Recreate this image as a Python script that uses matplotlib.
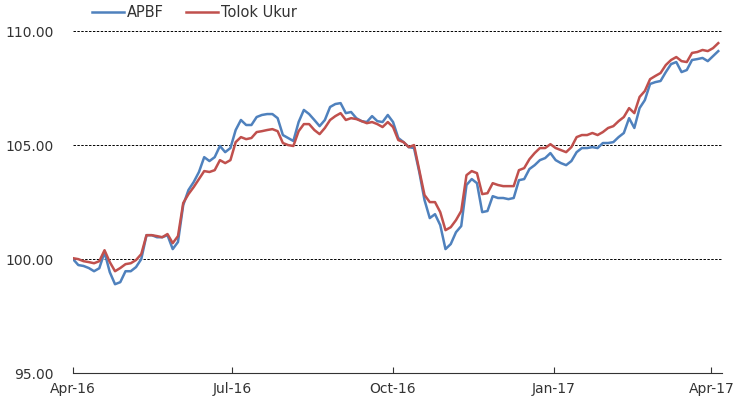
import matplotlib
matplotlib.use("Agg")
import matplotlib.pyplot as plt
import matplotlib.dates as mdates
import pandas as pd

# one reading every 3 days, starting 1 Apr 2016
dates = pd.date_range("2016-04-01", periods=124, freq="3D")

apbf = [
    100.00, 99.74, 99.70, 99.61, 99.47, 99.60, 100.30, 99.43, 98.90, 98.99,
    99.47, 99.47, 99.65, 100.00, 101.05, 101.05, 100.96, 100.96, 101.05, 100.44,
    100.75, 102.37, 103.03, 103.38, 103.82, 104.47, 104.30, 104.47, 104.96, 104.69,
    104.87, 105.66, 106.10, 105.88, 105.88, 106.23, 106.32, 106.36, 106.36, 106.18,
    105.44, 105.31, 105.18, 106.01, 106.54, 106.36, 106.10, 105.83, 106.10, 106.67,
    106.80, 106.84, 106.40, 106.45, 106.18, 106.05, 106.01, 106.27, 106.05, 106.01,
    106.32, 106.01, 105.31, 105.13, 104.91, 104.87, 103.82, 102.59, 101.80, 101.97,
    101.49, 100.44, 100.66, 101.18, 101.45, 103.25, 103.51, 103.33, 102.06, 102.11,
    102.76, 102.68, 102.68, 102.63, 102.68, 103.46, 103.51, 103.95, 104.12, 104.34,
    104.43, 104.65, 104.34, 104.21, 104.12, 104.30, 104.69, 104.87, 104.87, 104.91,
    104.87, 105.09, 105.09, 105.13, 105.35, 105.53, 106.18, 105.75, 106.62, 106.97,
    107.68, 107.76, 107.81, 108.20, 108.55, 108.64, 108.20, 108.29, 108.73, 108.77,
    108.82, 108.68, 108.90, 109.12,
]

tolok_ukur = [
    100.04, 100.00, 99.91, 99.87, 99.82, 99.91, 100.39, 99.87, 99.47, 99.61,
    99.78, 99.82, 99.96, 100.22, 101.05, 101.05, 101.01, 100.96, 101.10, 100.70,
    101.01, 102.46, 102.85, 103.16, 103.51, 103.86, 103.82, 103.90, 104.34, 104.21,
    104.34, 105.13, 105.35, 105.26, 105.31, 105.57, 105.61, 105.66, 105.70, 105.61,
    105.09, 105.00, 104.96, 105.61, 105.92, 105.92, 105.66, 105.48, 105.75, 106.10,
    106.27, 106.40, 106.10, 106.18, 106.14, 106.05, 105.96, 106.01, 105.92, 105.79,
    106.01, 105.79, 105.22, 105.13, 104.91, 105.00, 103.90, 102.81, 102.50, 102.50,
    102.06, 101.27, 101.40, 101.71, 102.11, 103.68, 103.86, 103.77, 102.85, 102.89,
    103.33, 103.25, 103.20, 103.20, 103.20, 103.90, 103.99, 104.38, 104.65, 104.87,
    104.87, 105.04, 104.87, 104.78, 104.69, 104.91, 105.35, 105.44, 105.44, 105.53,
    105.44, 105.57, 105.75, 105.83, 106.05, 106.23, 106.62, 106.40, 107.11, 107.37,
    107.89, 108.03, 108.16, 108.51, 108.73, 108.86, 108.68, 108.64, 109.04, 109.08,
    109.17, 109.12, 109.25, 109.47,
]

fig = plt.figure(figsize=(7.38, 4.03), dpi=100)
ax = fig.add_axes([0.099, 0.074, 0.879, 0.849])

ax.plot(dates, apbf, color="#4f81bd", lw=1.8, label="APBF")
ax.plot(dates, tolok_ukur, color="#c0504d", lw=1.8, label="Tolok Ukur")

ax.set_ylim(95, 110)
ax.set_yticks([95, 100, 105, 110])
ax.set_yticklabels(["95.00", "100.00", "105.00", "110.00"])
for v in [100, 105, 110]:
    ax.axhline(v, color="black", lw=0.7, ls=(0, (2.5, 1.5)), zorder=0)

ax.set_xlim(pd.Timestamp("2016-04-01"), pd.Timestamp("2017-04-07"))
ax.set_xticks(pd.to_datetime(["2016-04-01", "2016-07-01", "2016-10-01",
                              "2017-01-01", "2017-04-01"]))
ax.xaxis.set_major_formatter(mdates.DateFormatter("%b-%y"))

for s in ["top", "right", "left"]:
    ax.spines[s].set_visible(False)
ax.spines["bottom"].set_color("#333333")
ax.tick_params(axis="y", length=0, labelsize=10, colors="#333333", pad=14)
ax.tick_params(axis="x", direction="in", length=4, labelsize=10,
               colors="#333333", pad=6)

fig.legend(loc="upper left", bbox_to_anchor=(0.107, 1.02), ncol=2,
           frameon=False, fontsize=10.5, handlelength=2.2, handletextpad=0.2,
           columnspacing=1.5, labelcolor="#333333")

fig.savefig("out.png", dpi=100)
